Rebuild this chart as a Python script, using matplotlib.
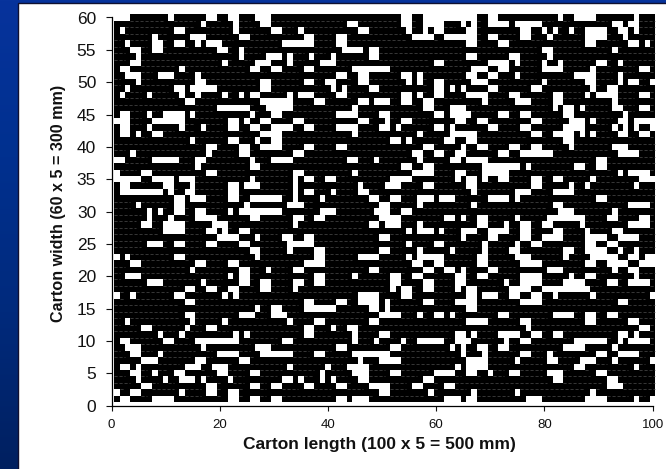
import numpy as np
import matplotlib
matplotlib.use("Agg")
import matplotlib.pyplot as plt
from matplotlib.colors import ListedColormap, LinearSegmentedColormap

plt.rcParams['font.family'] = ['Liberation Sans', 'DejaVu Sans']

n_cols = 100
n_rows = 60
x_ticks = [0, 20, 40, 60, 80, 100]
y_ticks = list(range(0, 65, 5))
x_label = "Carton length (100 x 5 = 500 mm)"
y_label = "Carton width (60 x 5 = 300 mm)"

# Uncovered (white) cell runs per row: row -> [(first column, last column), ...]
white_top = {
    60: [(1,3),(11,11),(18,19),(22,23),(27,29),(54,55),(58,67),(70,71),(83,83),(86,89),(97,97)],
    59: [(17,17),(23,23),(28,29),(44,45),(54,55),(58,61),(65,65),(67,67),(70,73),(75,79),(93,94),(96,97)],
    58: [(2,2),(12,13),(23,23),(30,31),(35,35),(46,47),(55,55),(58,58),(60,61),(66,67),(76,77),(80,80),(82,82),(85,85),(88,91),(94,95),(97,97)],
    57: [(8,8),(15,17),(24,25),(36,37),(42,43),(56,59),(62,67),(70,71),(76,77),(81,81),(88,91),(95,95)],
    56: [(3,3),(8,9),(12,13),(16,16),(18,20),(32,37),(42,43),(66,67),(72,73),(88,89),(96,97),(99,99)],
    55: [(4,5),(8,9),(20,21),(24,24),(43,46),(48,49),(80,81),(93,93)],
    54: [(5,5),(24,24),(29,31),(33,33),(37,37),(41,41),(48,49),(66,67),(74,75),(81,81)],
    53: [(4,5),(21,21),(27,29),(33,33),(39,41),(60,61),(70,73),(75,75),(80,80),(83,83),(90,91),(94,94)],
    52: [(2,3),(13,13),(26,27),(30,31),(36,37),(45,51),(67,69),(72,73),(80,83),(89,89),(98,99)],
    51: [(3,5),(9,11),(16,16),(42,43),(46,47),(54,55),(57,57),(66,67),(70,71),(75,75),(86,89),(94,94)],
    50: [(5,5),(16,17),(28,29),(36,37),(40,41),(46,47),(55,55),(57,57),(60,61),(67,69),(80,80),(88,89),(94,94),(96,97),(100,100)],
    49: [(3,3),(12,13),(15,19),(28,29),(41,41),(43,43),(48,49),(60,61),(63,63),(65,65),(70,71),(78,79),(89,89),(92,93)],
    48: [(2,2),(7,7),(13,13),(16,16),(21,21),(24,24),(26,27),(33,33),(35,37),(42,43),(54,55),(57,57),(60,61),(66,69),(74,75),(82,83),(88,88),(90,93),(98,99)],
    47: [(14,15),(28,33),(38,39),(46,47),(49,51),(54,55),(58,59),(69,69),(75,77),(82,83),(93,93)],
    46: [(20,25),(29,33),(45,45),(58,59),(63,65),(82,82),(84,85),(87,87),(93,94),(98,99)],
    45: [(2,3),(7,7),(10,13),(15,15),(26,26),(30,31),(42,45),(50,51),(60,61),(63,66),(72,73),(76,77),(84,85),(95,95)],
    44: [(1,3),(8,13),(22,23),(25,25),(28,29),(34,35),(46,47),(51,51),(54,55),(64,65),(68,69),(78,79),(85,87),(89,89),(94,95),(97,100)],
    43: [(2,3),(7,7),(13,13),(17,17),(22,23),(26,27),(30,33),(36,37),(42,45),(50,51),(53,53),(60,61),(63,63),(70,71),(76,77),(84,87),(93,93),(95,95),(97,97),(100,100)],
    42: [(2,3),(5,5),(8,9),(28,31),(45,45),(57,57),(63,67),(78,79),(82,85),(87,87),(89,89),(94,95),(98,99)],
    41: [(15,15),(22,23),(27,27),(30,31),(52,53),(55,55),(62,63),(66,67),(84,85)],
}
white_mid = {
    40: [(18,19),(24,25),(28,31),(36,37),(42,43),(58,59),(65,65),(68,69),(74,75),(78,79),(85,85),(93,95)],
    39: [(4,4),(18,18),(24,25),(34,35),(56,57),(60,61),(64,65),(72,73),(76,81),(94,97)],
    38: [(1,2),(8,12),(16,17),(26,26),(30,33),(44,45),(49,49),(57,57),(63,64),(66,69),(90,91)],
    37: [(16,16),(26,27),(54,55),(58,59),(69,75),(77,77),(86,87),(90,91)],
    36: [(1,1),(6,7),(18,19),(34,35),(45,45),(56,59),(64,65),(69,73),(94,94),(96,99)],
    35: [(1,5),(8,11),(13,15),(26,26),(34,34),(36,37),(40,41),(52,55),(64,64),(66,67),(69,69),(72,73),(78,79),(82,83),(89,89),(98,100)],
    34: [(2,3),(10,11),(15,15),(22,23),(25,27),(34,34),(46,46),(51,53),(58,59),(66,67),(78,79),(85,85),(88,88),(97,97)],
    33: [(2,9),(11,11),(14,15),(22,23),(34,34),(36,37),(41,41),(46,47),(67,67),(75,77),(82,85)],
    32: [(12,13),(15,17),(22,23),(26,31),(34,34),(39,39),(48,49),(52,53),(57,59),(61,63),(70,73),(75,75),(90,91)],
    31: [(5,5),(12,13),(25,25),(33,35),(50,51),(57,57),(67,67),(82,83),(96,99)],
    30: [(7,7),(9,9),(12,13),(16,17),(22,22),(24,31),(39,41),(49,51),(54,55),(83,85),(93,93)],
    29: [(7,7),(11,11),(16,19),(26,27),(34,35),(38,39),(50,53),(62,63),(65,65),(68,69),(75,75),(81,87),(92,93),(98,99)],
    28: [(6,7),(10,13),(19,21),(34,34),(48,49),(51,53),(57,57),(68,69),(73,73),(76,77),(80,81),(87,87),(96,99)],
    27: [(10,13),(18,19),(21,21),(24,25),(55,55),(57,59),(61,61),(65,67),(70,73),(76,77),(82,83),(88,88),(93,94)],
    26: [(20,23),(27,27),(32,33),(36,37),(50,51),(65,65),(70,71),(76,77),(80,83),(88,91),(94,97)],
    25: [(7,9),(12,13),(18,19),(24,25),(33,37),(55,55),(60,61),(69,69),(75,75),(78,79),(88,89),(92,93)],
    24: [(26,27),(33,33),(38,39),(50,51),(57,57),(63,63),(69,69),(74,75),(84,85),(88,91),(94,94),(97,97)],
    23: [(1,1),(3,3),(12,13),(27,27),(38,39),(46,49),(55,55),(57,61),(68,69),(75,77),(84,84),(89,93),(96,97),(99,100)],
    22: [(4,5),(16,17),(22,23),(36,39),(56,57),(60,61),(68,69),(76,79),(88,89),(92,95),(98,100)],
    21: [(15,15),(24,25),(29,29),(34,35),(48,49),(58,59),(62,63),(65,65),(70,71),(81,83),(93,93),(96,97)],
}
white_low = {
    20: [(3,5),(22,22),(24,25),(38,39),(45,45),(52,53),(56,57),(64,65),(68,69),(76,79),(85,85),(88,89),(97,97)],
    19: [(7,9),(17,17),(24,25),(28,29),(34,35),(38,39),(52,53),(58,59),(64,65),(73,73),(76,79),(84,87),(92,93),(96,99)],
    18: [(14,15),(18,19),(22,23),(28,29),(34,34),(52,52),(54,55),(58,59),(64,64),(66,67),(74,77),(80,88)],
    17: [(1,1),(4,4),(12,13),(21,21),(23,23),(46,49),(54,55),(66,67),(69,71),(74,75),(78,79),(82,82),(89,89),(100,100)],
    16: [(14,15),(36,37),(42,43),(46,49),(51,51),(58,59),(64,67),(76,79),(94,95)],
    15: [(27,27),(30,31),(36,41),(48,49),(51,51),(66,67)],
    14: [(14,15),(24,26),(30,32),(50,53),(57,57),(60,61),(63,63),(72,73),(82,85),(88,89),(92,93)],
    13: [(3,3),(15,15),(21,21),(33,33),(38,39),(48,49),(66,69),(76,77),(88,89),(96,97)],
    12: [(6,7),(14,14),(18,19),(36,37),(41,41),(44,45),(77,77),(98,99)],
    11: [(9,9),(13,13),(23,23),(25,25),(36,37),(45,45),(50,51),(64,65),(67,67),(72,75),(78,79),(82,83),(94,95),(97,97)],
    10: [(2,3),(10,11),(16,23),(32,33),(45,45),(49,49),(54,54),(57,61),(64,66),(73,73),(76,77),(86,91),(94,94),(96,99)],
    9: [(3,5),(17,17),(27,29),(42,43),(52,53),(63,63),(65,65),(68,69),(72,73),(84,87),(93,93)],
    8: [(4,5),(9,9),(20,23),(28,33),(38,39),(45,51),(65,65),(69,69),(76,77),(81,81),(90,91),(94,97)],
    7: [(6,8),(16,17),(24,25),(46,46),(50,53),(66,69),(75,75),(81,82),(87,89),(93,93),(100,100)],
    6: [(2,3),(5,5),(14,16),(19,21),(33,33),(40,40),(44,47),(64,64),(66,69),(86,87),(97,97)],
    5: [(4,5),(8,8),(12,13),(20,21),(26,27),(39,39),(45,47),(52,53),(60,63),(66,67),(70,70),(74,75),(81,83),(90,91)],
    4: [(5,5),(10,10),(13,15),(17,17),(22,22),(32,33),(35,35),(39,39),(41,41),(46,47),(58,59),(82,83),(92,93)],
    3: [(6,7),(18,19),(26,27),(30,31),(36,37),(42,43),(48,51),(56,57),(62,63),(92,94)],
    2: [(1,1),(4,5),(13,13),(18,19),(22,23),(50,51),(59,59),(67,67),(75,75),(89,89)],
    1: [(2,3),(8,11),(22,23),(26,27),(30,31),(42,43),(45,47),(62,64),(66,67),(77,79),(88,91),(97,97),(100,100)],
}

# Occupancy matrix: 1 = black cell, 0 = white cell
cover = np.ones((n_rows, n_cols), dtype=int)
for runs in (white_top, white_mid, white_low):
    for row, spans in runs.items():
        for first, last in spans:
            cover[row - 1, first - 1:last] = 0

W, H = 666, 469
fig = plt.figure(figsize=(W / 100, H / 100), dpi=100)

# Slide background: blue gradient and white panel
bg = fig.add_axes([0, 0, 1, 1], zorder=0)
bg.axis("off")
grad_cmap = LinearSegmentedColormap.from_list("slide", ["#07339c", "#00308f", "#002a7c", "#002060"])
bg.imshow(np.linspace(0, 1, 256).reshape(-1, 1), aspect="auto", cmap=grad_cmap, extent=[0, W, H, 0])
bg.add_patch(plt.Rectangle((17.5, 3.5), W, H, facecolor="white", edgecolor="#101030", linewidth=1))
bg.set_xlim(0, W)
bg.set_ylim(H, 0)

ax = fig.add_axes([111.5 / W, (H - 405.6) / H, (652.7 - 111.5) / W, (405.6 - 17.5) / H], zorder=1)
ax.patch.set_alpha(0)
x_edges = np.arange(n_cols + 1) + 0.5
y_edges = np.arange(n_rows + 1) + 0.5
ax.pcolormesh(x_edges, y_edges, cover, cmap=ListedColormap(["white", "black"]),
              vmin=0, vmax=1, shading="flat", clip_on=False, rasterized=True)

# Faint dashed gridlines, visible across the black cells
x_mid = np.arange(1, n_cols + 1)
for j in range(n_rows - 1):
    both = (cover[j] == 1) & (cover[j + 1] == 1)
    ax.plot(np.r_[x_mid - 0.5, n_cols + 0.5],
            np.where(np.r_[both, both[-1]], j + 1.5, np.nan),
            color="#555555", lw=0.45, dashes=(5, 3), clip_on=False)

ax.set_xlim(0, 100)
ax.set_ylim(0, 60)
ax.set_xticks(x_ticks)
ax.set_yticks(y_ticks)
ax.tick_params(axis="x", labelsize=9.5, length=3.6, width=0.8, pad=6, colors="#111111")
ax.tick_params(axis="y", labelsize=12.5, length=4.5, width=0.8, pad=6.5, colors="#111111")
for s in ("top", "right"):
    ax.spines[s].set_visible(False)
for s in ("left", "bottom"):
    ax.spines[s].set_linewidth(0.9)

fig.text(379.5 / W, 1 - 444 / H, x_label, ha="center", va="center", fontweight="bold", fontsize=12.5, color="#111111")
fig.text(59 / W, 1 - 203.5 / H, y_label, ha="center", va="center", rotation=90, fontweight="bold", fontsize=11.6, color="#111111")

fig.savefig("out.png", dpi=100)
